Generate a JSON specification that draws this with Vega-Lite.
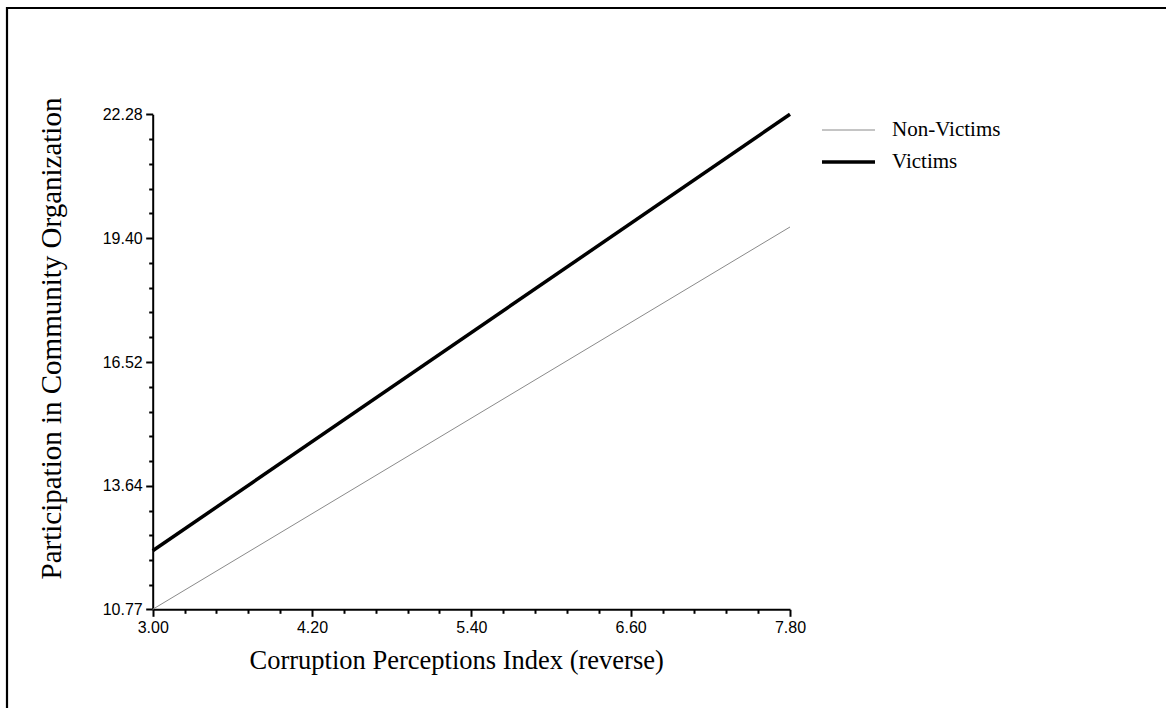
{
  "$schema": "https://vega.github.io/schema/vega-lite/v6.json",
  "autosize": "none",
  "padding": {"left": 7, "top": 8, "right": 0, "bottom": 0},
  "width": 1170,
  "height": 720,
  "background": "white",
  "config": {"view": {"stroke": "black", "strokeWidth": 2.2}},
  "data": {
    "values": [
      {"group": "Non-Victims", "cpi": 3.0, "participation": 10.77},
      {"group": "Non-Victims", "cpi": 7.8, "participation": 19.66},
      {"group": "Victims", "cpi": 3.0, "participation": 12.13},
      {"group": "Victims", "cpi": 7.8, "participation": 22.28}
    ]
  },
  "mark": {"type": "line", "strokeCap": "butt"},
  "encoding": {
    "x": {
      "field": "cpi",
      "type": "quantitative",
      "scale": {"domain": [3, 7.8], "range": [145.7, 783], "nice": false, "zero": false},
      "axis": {
        "orient": "bottom",
        "offset": -118.7,
        "values": [3.0, 3.24, 3.48, 3.72, 3.96, 4.2, 4.44, 4.68, 4.92, 5.16, 5.4, 5.64, 5.88, 6.12, 6.36, 6.6, 6.84, 7.08, 7.32, 7.56, 7.8],
        "labelExpr": "indexof([3,4.2,5.4,6.6,7.8], datum.value) >= 0 ? format(datum.value, '.2f') : ''",
        "labelOverlap": false,
        "labelFlush": false,
        "labelFont": "Liberation Sans",
        "labelFontSize": 16,
        "labelColor": "black",
        "labelPadding": 3,
        "domainColor": "black",
        "domainWidth": 2,
        "tickColor": "black",
        "tickWidth": 2,
        "tickSize": {"condition": {"test": "indexof([3,4.2,5.4,6.6,7.8], datum.value) >= 0", "value": 7}, "value": 4},
        "grid": false,
        "title": "Corruption Perceptions Index (reverse)",
        "titleFont": "Liberation Serif",
        "titleFontSize": 26.5,
        "titleFontWeight": "normal",
        "titleColor": "black",
        "titleAlign": "left",
        "titleBaseline": "alphabetic",
        "titleX": 242,
        "titleY": 58.7
      }
    },
    "y": {
      "field": "participation",
      "type": "quantitative",
      "scale": {"domain": [10.77, 22.28], "range": [601.3, 106.3], "nice": false, "zero": false},
      "axis": {
        "orient": "left",
        "offset": -145.7,
        "values": [10.77, 11.344, 11.918, 12.492, 13.066, 13.64, 14.216, 14.792, 15.368, 15.944, 16.52, 17.096, 17.672, 18.248, 18.824, 19.4, 19.976, 20.552, 21.128, 21.704, 22.28],
        "labelExpr": "indexof([10.77,13.64,16.52,19.4,22.28], datum.value) >= 0 ? format(datum.value, '.2f') : ''",
        "labelOverlap": false,
        "labelFlush": false,
        "labelFont": "Liberation Sans",
        "labelFontSize": 16,
        "labelColor": "black",
        "labelPadding": 3.5,
        "domainColor": "black",
        "domainWidth": 2,
        "tickColor": "black",
        "tickWidth": 2,
        "tickSize": {"condition": {"test": "indexof([10.77,13.64,16.52,19.4,22.28], datum.value) >= 0", "value": 7}, "value": 4},
        "grid": false,
        "title": "Participation in Community Organization",
        "titleFont": "Liberation Serif",
        "titleFontSize": 29,
        "titleFontWeight": "normal",
        "titleColor": "black",
        "titleAngle": 270,
        "titleAlign": "left",
        "titleBaseline": "alphabetic",
        "titleX": -92,
        "titleY": 571
      }
    },
    "color": {
      "field": "group",
      "type": "nominal",
      "scale": {"domain": ["Non-Victims", "Victims"], "range": ["#8a8a8a", "#000000"]},
      "legend": {
        "title": null,
        "orient": "none",
        "legendX": 813,
        "legendY": 112,
        "padding": 0,
        "symbolType": "stroke",
        "symbolSize": 2809,
        "labelFont": "Liberation Serif",
        "labelFontSize": 21,
        "labelColor": "black",
        "labelOffset": 15,
        "clipHeight": 20,
        "rowPadding": 11
      }
    },
    "strokeWidth": {
      "field": "group",
      "type": "nominal",
      "scale": {"domain": ["Non-Victims", "Victims"], "range": [1, 3.5]},
      "legend": {
        "title": null,
        "orient": "none",
        "legendX": 813,
        "legendY": 112,
        "padding": 0,
        "symbolType": "stroke",
        "symbolSize": 2809,
        "labelFont": "Liberation Serif",
        "labelFontSize": 21,
        "labelColor": "black",
        "labelOffset": 15,
        "clipHeight": 20,
        "rowPadding": 11
      }
    }
  }
}
